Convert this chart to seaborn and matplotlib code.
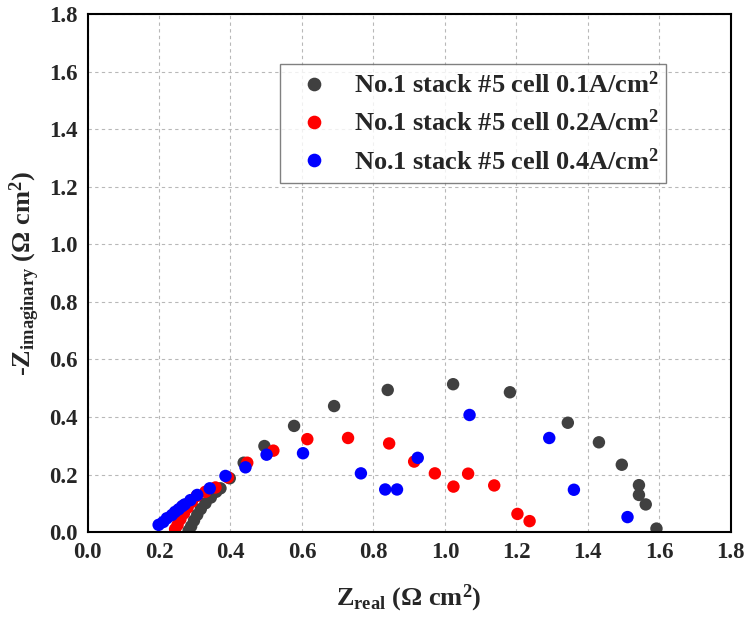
import matplotlib
matplotlib.use("Agg")
import matplotlib.pyplot as plt
import seaborn as sns
import pandas as pd
from matplotlib.ticker import MultipleLocator

# Data
x_01 = [0.283, 0.290, 0.298, 0.307, 0.317, 0.330, 0.345, 0.360, 0.372, 0.398, 0.437, 0.495,
        0.578, 0.690, 0.840, 1.023, 1.182, 1.344, 1.431, 1.495, 1.543, 1.543, 1.562, 1.592]
y_01 = [0.005, 0.020, 0.040, 0.060, 0.080, 0.100, 0.120, 0.140, 0.152, 0.187, 0.241, 0.299,
        0.369, 0.438, 0.494, 0.514, 0.486, 0.380, 0.312, 0.234, 0.163, 0.129, 0.096, 0.012]
x_02 = [0.245, 0.252, 0.260, 0.270, 0.280, 0.292, 0.305, 0.330, 0.358, 0.393, 0.447, 0.520,
        0.615, 0.729, 0.844, 0.914, 0.972, 1.024, 1.065, 1.138, 1.203, 1.237]
y_02 = [0.010, 0.025, 0.045, 0.065, 0.085, 0.105, 0.125, 0.140, 0.155, 0.190, 0.241, 0.283,
        0.323, 0.327, 0.308, 0.245, 0.204, 0.158, 0.203, 0.162, 0.063, 0.038]
x_04 = [0.199, 0.212, 0.222, 0.236, 0.245, 0.255, 0.265, 0.272, 0.288, 0.307, 0.342, 0.386,
        0.442, 0.501, 0.603, 0.765, 0.833, 0.866, 0.924, 1.069, 1.292, 1.361, 1.511]
y_04 = [0.025, 0.035, 0.048, 0.059, 0.070, 0.079, 0.090, 0.096, 0.111, 0.129, 0.152, 0.195,
        0.225, 0.269, 0.274, 0.204, 0.148, 0.148, 0.258, 0.407, 0.327, 0.147, 0.052]
labels = ["No.1 stack #5 cell 0.1A/cm$^\\mathbf{2}$",
          "No.1 stack #5 cell 0.2A/cm$^\\mathbf{2}$",
          "No.1 stack #5 cell 0.4A/cm$^\\mathbf{2}$"]
colors = ["#404040", "#ff0000", "#0000ff"]

df = pd.concat([
    pd.DataFrame({"x": x_01, "y": y_01, "s": labels[0]}),
    pd.DataFrame({"x": x_02, "y": y_02, "s": labels[1]}),
    pd.DataFrame({"x": x_04, "y": y_04, "s": labels[2]}),
], ignore_index=True)

sns.set_style("white")
plt.rcParams["font.family"] = ["Liberation Serif", "DejaVu Serif"]
plt.rcParams["font.weight"] = "bold"
plt.rcParams["mathtext.fontset"] = "custom"
plt.rcParams["mathtext.rm"] = "Liberation Serif:bold"
plt.rcParams["mathtext.bf"] = "Liberation Serif:bold"
plt.rcParams["mathtext.it"] = "Liberation Serif:bold"

fig = plt.figure(figsize=(7.48, 6.23), dpi=100)
ax = fig.add_axes([0.117, 0.146, 0.860, 0.831])

sns.scatterplot(data=df, x="x", y="y", hue="s", palette=colors, s=80,
                edgecolor="none", ax=ax, legend=True)

ax.set_xlim(0, 1.8)
ax.set_ylim(0, 1.8)
ax.xaxis.set_major_locator(MultipleLocator(0.2))
ax.yaxis.set_major_locator(MultipleLocator(0.2))
ax.xaxis.set_minor_locator(MultipleLocator(0.1))
ax.yaxis.set_minor_locator(MultipleLocator(0.1))
ax.xaxis.set_major_formatter(matplotlib.ticker.FormatStrFormatter("%.1f"))
ax.yaxis.set_major_formatter(matplotlib.ticker.FormatStrFormatter("%.1f"))
ax.tick_params(which="major", direction="in", length=6, width=1.5, labelsize=16.5,
               top=False, right=False, pad=7)
ax.tick_params(which="minor", direction="in", length=3.5, width=1.2, top=False, right=False)
for lab in ax.get_xticklabels() + ax.get_yticklabels():
    lab.set_fontweight("bold")
ax.grid(True, which="major", linestyle=(0, (3, 3)), color="#b8b8b8", linewidth=0.8)
for sp in ax.spines.values():
    sp.set_linewidth(1.5)
    sp.set_color("black")

ax.set_xlabel("Z$_\\mathbf{real}$ ($\\Omega$ cm$^\\mathbf{2}$)", fontsize=19, fontweight="bold", labelpad=14)
ax.set_ylabel("-Z$_\\mathbf{imaginary}$ ($\\Omega$ cm$^\\mathbf{2}$)", fontsize=19, fontweight="bold", labelpad=5)

leg = ax.legend(loc="upper right", bbox_to_anchor=(0.90, 0.905), borderaxespad=0.0,
                frameon=True, fancybox=False, edgecolor="#606060",
                prop={"size": 19, "weight": "bold"},
                handlelength=2.0, handletextpad=0.5, borderpad=0.3, labelspacing=0.45,
                markerscale=1.1)
leg.get_frame().set_linewidth(1.0)

fig.savefig("out.png", dpi=100)
